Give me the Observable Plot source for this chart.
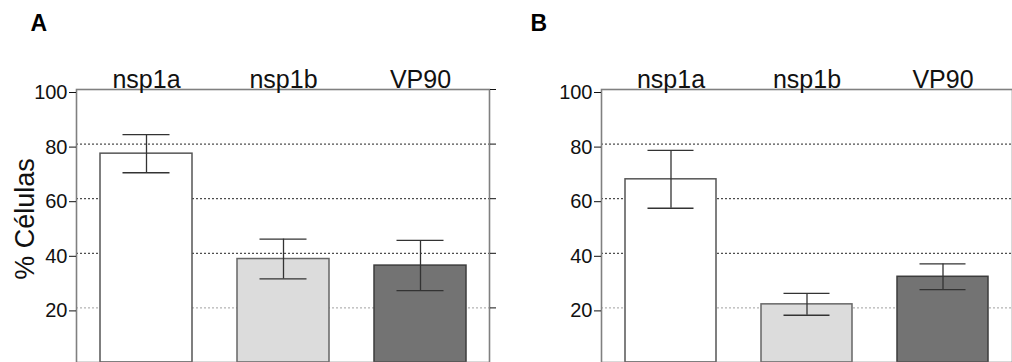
<!DOCTYPE html>
<html><head><meta charset="utf-8">
<script src="https://cdn.jsdelivr.net/npm/d3@7"></script>
<script src="https://cdn.jsdelivr.net/npm/@observablehq/plot@0.6"></script>
<style>
body{margin:0;background:#fff;}
#wrap{display:flex;width:1012px;height:362px;overflow:hidden;background:#fff;}
#wrap svg{display:block;flex:none;}
</style></head><body><div id="wrap"></div>
<script>
const categories = ["nsp1a", "nsp1b", "VP90"];
const meansA = [76.5, 37.9, 35.5];
const errsA = [7.0, 7.3, 9.2];
const meansB = [67.1, 21.3, 31.4];
const errsB = [10.6, 4.0, 4.7];
const yTicks = [20, 40, 60, 80, 100];
const gridTicks = [20, 40, 60, 80];
const fills = ["#ffffff", "#dcdcdc", "#737373"];
const strokes = ["#555555", "#666666", "#3c3c3c"];
const panelLabels = ["A", "B"];
const yLabel = "% Células";

function panel({means, errs, width, marginLeft, marginRight, label, labelDx, showYLabel}) {
  const table = categories.map((c, i) => ({cat: c, mean: means[i], err: errs[i], fill: fills[i], stroke: strokes[i]}));
  const marks = [
    Plot.ruleY(gridTicks, {y: d => d, stroke: d => d === 20 ? "#a0a0a0" : "#222", strokeDasharray: "2,2", strokeWidth: 1}),
    Plot.barY(table, {x: "cat", y: "mean", fill: "fill", stroke: "stroke", strokeWidth: 1.5}),
    Plot.ruleX(table, {x: "cat", y1: d => d.mean - d.err, y2: d => d.mean + d.err, stroke: "#333", strokeWidth: 1.3}),
    Plot.tickY(table, {x: "cat", y: d => d.mean + d.err, inset: 22.5, stroke: "#333", strokeWidth: 1.3}),
    Plot.tickY(table, {x: "cat", y: d => d.mean - d.err, inset: 22.5, stroke: "#333", strokeWidth: 1.3}),
    Plot.frame({stroke: "#808080", strokeWidth: 1.6}),
    Plot.axisY({anchor: "left", ticks: yTicks, tickSize: 7, tickPadding: 2, fontSize: 20, dy: 3, label: null}),
    Plot.axisY({anchor: "right", ticks: yTicks, tickSize: 6, tickFormat: () => "", label: null}),
    Plot.text(categories, {x: d => d, frameAnchor: "top", lineAnchor: "bottom", dy: -2, fontSize: 25, fill: "#111"}),
    Plot.text([label], {frameAnchor: "top-left", textAnchor: "start", lineAnchor: "bottom", dx: labelDx, dy: -59, fontSize: 23, fontWeight: "bold", fill: "#000"})
  ];
  if (showYLabel) {
    marks.push(Plot.text([yLabel], {frameAnchor: "left", textAnchor: "middle", lineAnchor: "bottom", rotate: -90, dx: -43, dy: -7, fontSize: 27, fill: "#111"}));
  }
  return Plot.plot({
    width, height: 362,
    marginTop: 89, marginBottom: 0, marginLeft, marginRight,
    style: {fontFamily: "'Liberation Sans', Arial, sans-serif", fontSize: "20px", background: "#fff", color: "#111", overflow: "hidden"},
    x: {type: "band", domain: categories, paddingInner: 0.33, paddingOuter: 0.17, axis: null, label: null},
    y: {domain: [0, 100], axis: null, label: null},
    marks
  });
}

const wrap = document.getElementById("wrap");
wrap.appendChild(panel({means: meansA, errs: errsA, width: 510, marginLeft: 76, marginRight: 21, label: panelLabels[0], labelDx: -46, showYLabel: true}));
wrap.appendChild(panel({means: meansB, errs: errsB, width: 502, marginLeft: 91, marginRight: 0, label: panelLabels[1], labelDx: -71, showYLabel: false}));
</script></body></html>
